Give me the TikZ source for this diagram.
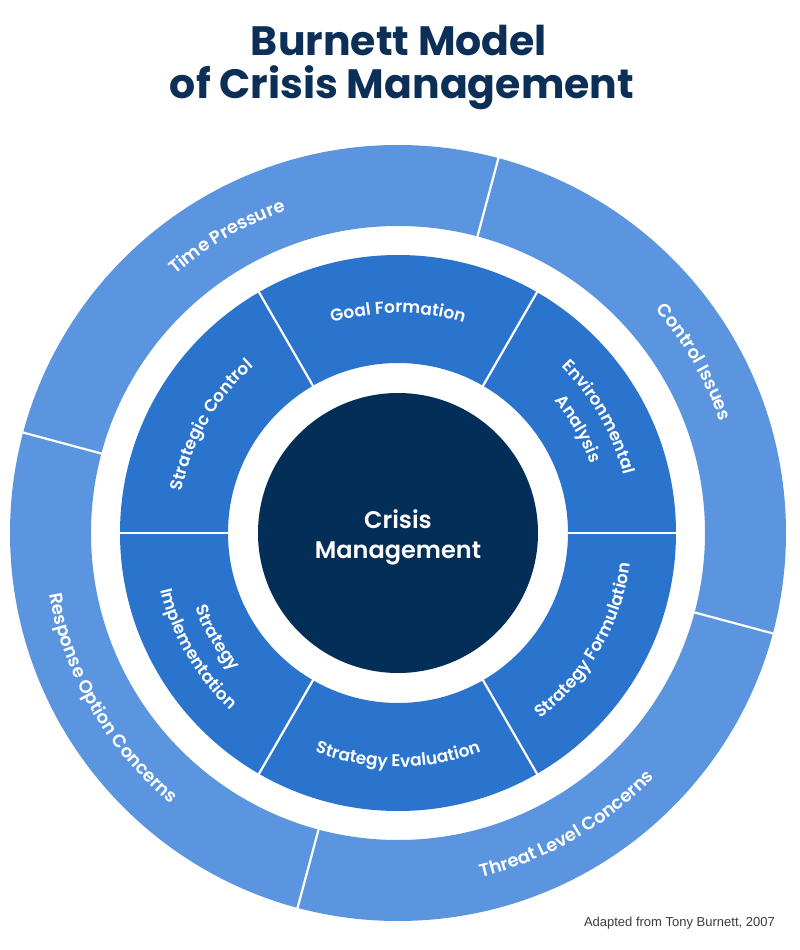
\documentclass[tikz,border=0pt]{standalone}
\usepackage{fontspec}
\setmainfont{Poppins}
\newfontfamily\semifont{Poppins}[UprightFont={* SemiBold}]
\newfontfamily\notefont{Liberation Sans}
\usetikzlibrary{decorations.text}
\definecolor{outerblue}{HTML}{5B95DF}
\definecolor{midblue}{HTML}{2B74CD}
\definecolor{corenavy}{HTML}{032E57}
\definecolor{titlenavy}{HTML}{0B2F57}
\definecolor{notegray}{HTML}{3C3C3C}
\newcommand\outerfmt{\color{white}\semifont\fontsize{18}{21}\selectfont}
\newcommand\midfmt{\color{white}\semifont\fontsize{17}{20}\selectfont}
% clockwise arc text (tops outward): angle, radius, half span, text
\newcommand\cwtext[4]{\path[decorate,decoration={text along path,text align=center,text={#4}}] ({#1+#3}:#2) arc[start angle={#1+#3},end angle={#1-#3},radius=#2];}
% counterclockwise arc text (tops inward)
\newcommand\ccwtext[4]{\path[decorate,decoration={text along path,text align=center,text={#4}}] ({#1-#3}:#2) arc[start angle={#1-#3},end angle={#1+#3},radius=#2];}
\tikzset{
  sepline/.style={white,line width=2.2pt},
  titletext/.style={text=titlenavy,font=\bfseries\fontsize{41}{45}\selectfont,anchor=base,inner sep=0pt},
  coretext/.style={text=white,font=\semifont\fontsize{24}{28}\selectfont,anchor=base,inner sep=0pt},
  notetext/.style={text=notegray,font=\notefont\fontsize{13}{15}\selectfont,anchor=base east,inner sep=0pt}
}
\begin{document}
\begin{tikzpicture}[x=1pt,y=1pt]
\fill[white] (-398,-417) rectangle (402,533);
\useasboundingbox (-398,-417) rectangle (402,533);
% rings
\fill[outerblue,even odd rule] (0,0) circle[radius=388] (0,0) circle[radius=307];
\fill[midblue,even odd rule] (0,0) circle[radius=278] (0,0) circle[radius=170];
\fill[corenavy] (0,0) circle[radius=140];
% separators
\foreach \a in {75,165,255,345} \draw[sepline] (\a:304) -- (\a:391);
\foreach \a in {0,60,120,180,240,300} \draw[sepline] (\a:167) -- (\a:281);
% outer labels
\cwtext{120}{341}{35}{|\outerfmt|Time Pressure}
\cwtext{30}{341}{35}{|\outerfmt|Control Issues}
\ccwtext{300}{354}{35}{|\outerfmt|Threat Level Concerns}
\ccwtext{210}{354}{35}{|\outerfmt|Response Option Concerns}
% middle labels
\cwtext{90}{220}{40}{|\midfmt|Goal Formation}
\cwtext{150}{220}{40}{|\midfmt|Strategic Control}
\cwtext{30}{233}{40}{|\midfmt|Environmental}
\cwtext{30}{205}{40}{|\midfmt|Analysis}
\ccwtext{330}{234}{40}{|\midfmt|Strategy Formulation}
\ccwtext{270}{234}{40}{|\midfmt|Strategy Evaluation}
\ccwtext{210}{216}{40}{|\midfmt|Strategy}
\ccwtext{210}{244}{40}{|\midfmt|Implementation}
% texts
\node[coretext] (core1) at (0,4) {Crisis};
\node[coretext] (core2) at (0,-25) {Management};
\node[titletext] (title1) at (1,477) {Burnett Model};
\node[titletext] (title2) at (4,434) {of Crisis Management};
\node[notetext] (note) at (377,-393) {Adapted from Tony Burnett, 2007};
\end{tikzpicture}
\end{document}
